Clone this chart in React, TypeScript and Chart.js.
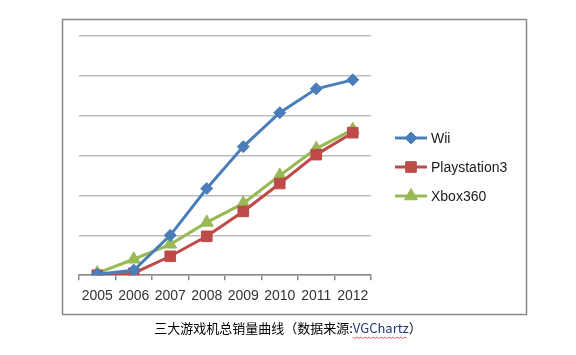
import React, { useEffect, useRef } from 'react';
import { Chart, registerables } from 'chart.js';
import { drawPoint } from 'chart.js/helpers';

Chart.register(...registerables);

const categories = ['2005', '2006', '2007', '2008', '2009', '2010', '2011', '2012'];
const seriesNames = ['Wii', 'Playstation3', 'Xbox360'];
const wiiSales = [0.5, 2.5, 20, 43.5, 64.5, 81.5, 93.5, 98];
const ps3Sales = [0, 1, 9.5, 19.5, 32, 46, 60.5, 71.5];
const xboxSales = [1, 8, 15.5, 26.5, 36, 50, 63.5, 73];
const yMin = 0;
const yMax = 120;
const yStep = 20;
const captionMain = '三大游戏机总销量曲线（数据来源:';
const captionSource = 'VGChartz';
const captionEnd = '）';

const colors = ['#4a7ebb', '#be4b48', '#98b954'];
const pointStyles = ['rectRot', 'rect', 'triangle'];
const pointRadii = [6, 7.5, 7.5];

const decorPlugin = {
  id: 'decor',
  beforeDraw(chart: any) {
    const ctx = chart.ctx;
    ctx.save();
    ctx.strokeStyle = '#8a8a8a';
    ctx.lineWidth = 1.5;
    ctx.strokeRect(62.5, 19.5, 464, 295);
    ctx.restore();
  },
  afterDraw(chart: any) {
    const ctx = chart.ctx;
    ctx.save();
    // legend
    const x0 = chart.chartArea.right + 24;
    const lineLen = 32;
    chart.data.datasets.forEach((ds: any, i: number) => {
      const y = 138 + i * 29;
      ctx.strokeStyle = ds.borderColor;
      ctx.fillStyle = ds.pointBackgroundColor;
      ctx.lineWidth = 3;
      ctx.beginPath();
      ctx.moveTo(x0, y);
      ctx.lineTo(x0 + lineLen, y);
      ctx.stroke();
      ctx.lineWidth = 1;
      ctx.strokeStyle = ds.pointBorderColor;
      drawPoint(ctx, { pointStyle: ds.pointStyle, radius: ds.pointRadius, rotation: 0, borderWidth: 1 }, x0 + lineLen / 2, y);
      ctx.fillStyle = '#1a1a1a';
      ctx.font = '14px "Liberation Sans", Arial, sans-serif';
      ctx.textBaseline = 'middle';
      ctx.textAlign = 'left';
      ctx.fillText(ds.label, x0 + lineLen + 4, y + 1);
    });
    // caption
    ctx.font = '13px "Noto Sans CJK SC", sans-serif';
    ctx.textBaseline = 'middle';
    ctx.textAlign = 'left';
    const w1 = ctx.measureText(captionMain).width;
    const w2 = ctx.measureText(captionSource).width;
    const w3 = ctx.measureText(captionEnd).width;
    const total = w1 + w2 + w3;
    let cx = 288 - total / 2;
    const cy = 328;
    ctx.fillStyle = '#000000';
    ctx.fillText(captionMain, cx, cy);
    cx += w1;
    ctx.fillStyle = '#1f3a7a';
    ctx.fillText(captionSource, cx, cy);
    // wavy underline
    ctx.strokeStyle = '#e03030';
    ctx.lineWidth = 0.8;
    ctx.beginPath();
    for (let xx = 0; xx <= w2; xx += 2) {
      const yy = cy + 9 + ((xx / 2) % 2 === 0 ? 0 : 1.5);
      if (xx === 0) ctx.moveTo(cx + xx, yy);
      else ctx.lineTo(cx + xx, yy);
    }
    ctx.stroke();
    cx += w2;
    ctx.fillStyle = '#000000';
    ctx.fillText(captionEnd, cx, cy);
    ctx.restore();
  },
};

export default function App() {
  const canvasRef = useRef<HTMLCanvasElement | null>(null);

  useEffect(() => {
    if (!canvasRef.current) return;
    const seriesData = [wiiSales, ps3Sales, xboxSales];
    const chart = new Chart(canvasRef.current, {
      type: 'line',
      data: {
        labels: categories,
        datasets: seriesNames.map((name, i) => ({
          label: name,
          data: seriesData[i],
          borderColor: colors[i],
          backgroundColor: colors[i],
          pointBackgroundColor: colors[i],
          pointBorderColor: colors[i],
          pointBorderWidth: 1,
          pointStyle: pointStyles[i] as any,
          pointRadius: pointRadii[i],
          borderWidth: 3,
          tension: 0,
          fill: false,
        })),
      },
      options: {
        responsive: false,
        animation: false,
        devicePixelRatio: 1,
        layout: { padding: { left: 79, right: 205, top: 36, bottom: 42 } },
        plugins: {
          legend: { display: false },
          title: { display: false },
          tooltip: { enabled: false },
        },
        scales: {
          x: {
            type: 'category',
            offset: true,
            grid: {
              display: true,
              drawOnChartArea: false,
              drawTicks: true,
              tickLength: 5,
              offset: true,
              color: '#8a8a8a',
              lineWidth: 1.5,
            },
            border: { display: true, color: '#8a8a8a', width: 1.5 },
            ticks: {
              color: '#333333',
              padding: 8,
              maxRotation: 0,
              autoSkip: false,
              font: { family: '"Liberation Sans", Arial, sans-serif', size: 14 },
            },
          },
          y: {
            min: yMin,
            max: yMax,
            grid: { color: '#bdbdbd', lineWidth: 1.5, drawTicks: false },
            border: { display: false },
            ticks: { display: false, stepSize: yStep },
          },
        },
      },
      plugins: [decorPlugin],
    });
    return () => chart.destroy();
  }, []);

  return (
    <div style={{ position: 'absolute', left: 0, top: 0, width: 576, height: 355, background: '#ffffff' }}>
      <canvas ref={canvasRef} width={576} height={355} style={{ display: 'block', width: 576, height: 355 }} />
    </div>
  );
}
